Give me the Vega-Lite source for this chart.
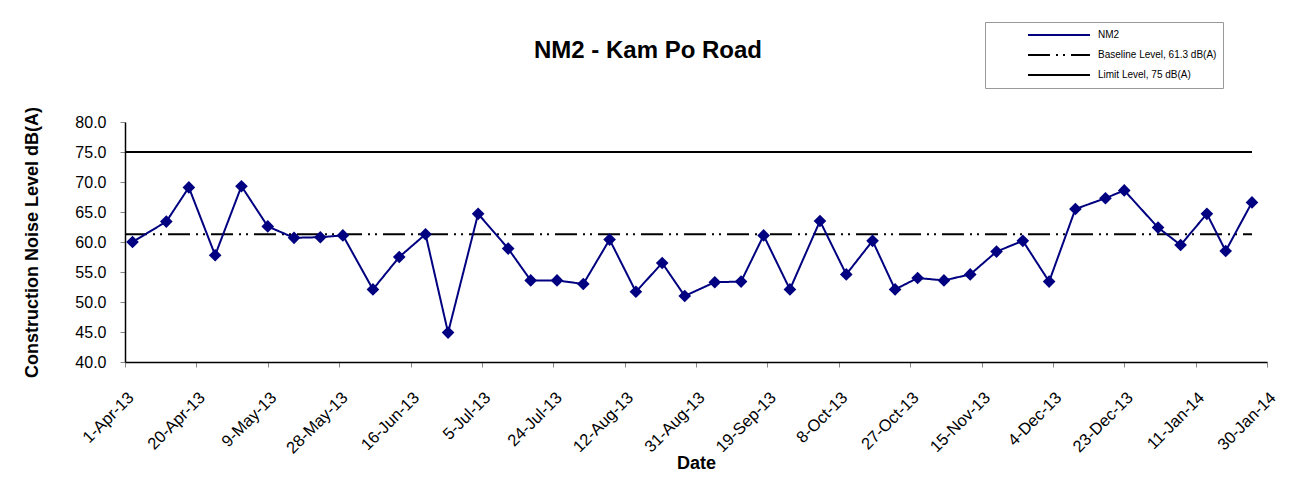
{
  "$schema": "https://vega.github.io/schema/vega-lite/v6.json",
  "width": 1142,
  "height": 240,
  "autosize": {"type": "none"},
  "padding": {"left": 125, "top": 122, "right": 28, "bottom": 123},
  "background": "white",
  "config": {
    "font": "Liberation Sans",
    "view": {"stroke": null},
    "axis": {"domainColor": "black", "domainWidth": 1.5, "tickColor": "#888", "tickSize": 5, "labelColor": "black", "titleColor": "black", "grid": false}
  },
  "title": {"text": "NM2 - Kam Po Road", "fontSize": 24, "fontWeight": "bold", "anchor": "middle", "dx": -48, "offset": -60, "baseline": "alphabetic", "color": "black"},
  "datasets": {
    "nm2": [
      {"date": "2013-04-03", "value": 60.0},
      {"date": "2013-04-12", "value": 63.4},
      {"date": "2013-04-18", "value": 69.1},
      {"date": "2013-04-25", "value": 57.8},
      {"date": "2013-05-02", "value": 69.3},
      {"date": "2013-05-09", "value": 62.6},
      {"date": "2013-05-16", "value": 60.7},
      {"date": "2013-05-23", "value": 60.8},
      {"date": "2013-05-29", "value": 61.1},
      {"date": "2013-06-06", "value": 52.1},
      {"date": "2013-06-13", "value": 57.5},
      {"date": "2013-06-20", "value": 61.3},
      {"date": "2013-06-26", "value": 44.9},
      {"date": "2013-07-04", "value": 64.7},
      {"date": "2013-07-12", "value": 58.9},
      {"date": "2013-07-18", "value": 53.6},
      {"date": "2013-07-25", "value": 53.6},
      {"date": "2013-08-01", "value": 53.0},
      {"date": "2013-08-08", "value": 60.4},
      {"date": "2013-08-15", "value": 51.7},
      {"date": "2013-08-22", "value": 56.5},
      {"date": "2013-08-28", "value": 51.0},
      {"date": "2013-09-05", "value": 53.3},
      {"date": "2013-09-12", "value": 53.4},
      {"date": "2013-09-18", "value": 61.1},
      {"date": "2013-09-25", "value": 52.1},
      {"date": "2013-10-03", "value": 63.5},
      {"date": "2013-10-10", "value": 54.6},
      {"date": "2013-10-17", "value": 60.2},
      {"date": "2013-10-23", "value": 52.1},
      {"date": "2013-10-29", "value": 54.0},
      {"date": "2013-11-05", "value": 53.6},
      {"date": "2013-11-12", "value": 54.6},
      {"date": "2013-11-19", "value": 58.4},
      {"date": "2013-11-26", "value": 60.2},
      {"date": "2013-12-03", "value": 53.4},
      {"date": "2013-12-10", "value": 65.5},
      {"date": "2013-12-18", "value": 67.3},
      {"date": "2013-12-23", "value": 68.6},
      {"date": "2014-01-01", "value": 62.4},
      {"date": "2014-01-07", "value": 59.5},
      {"date": "2014-01-14", "value": 64.7},
      {"date": "2014-01-19", "value": 58.5},
      {"date": "2014-01-26", "value": 66.6}
    ],
    "refs": [
      {"series": "Baseline Level, 61.3 dB(A)", "start": "2013-04-01", "end": "2014-01-26", "level": 61.3},
      {"series": "Limit Level, 75 dB(A)", "start": "2013-04-01", "end": "2014-01-26", "level": 75}
    ]
  },
  "encoding": {
    "x": {
      "field": "date", "type": "temporal",
      "scale": {"type": "utc", "domain": [{"year": 2013, "month": 4, "date": 1, "utc": true}, {"year": 2014, "month": 1, "date": 30, "utc": true}]},
      "axis": {
        "title": "Date", "titleFontSize": 18, "titleFontWeight": "bold", "titleDx": -48, "titlePadding": -2,
        "format": "%-d-%b-%y", "labelAngle": -45, "labelFontSize": 16.5, "labelPadding": 22, "labelDx": -19, "labelOverlap": false, "labelFlush": false,
        "values": [
          {"year": 2013, "month": 4, "date": 1, "utc": true},
          {"year": 2013, "month": 4, "date": 20, "utc": true},
          {"year": 2013, "month": 5, "date": 9, "utc": true},
          {"year": 2013, "month": 5, "date": 28, "utc": true},
          {"year": 2013, "month": 6, "date": 16, "utc": true},
          {"year": 2013, "month": 7, "date": 5, "utc": true},
          {"year": 2013, "month": 7, "date": 24, "utc": true},
          {"year": 2013, "month": 8, "date": 12, "utc": true},
          {"year": 2013, "month": 8, "date": 31, "utc": true},
          {"year": 2013, "month": 9, "date": 19, "utc": true},
          {"year": 2013, "month": 10, "date": 8, "utc": true},
          {"year": 2013, "month": 10, "date": 27, "utc": true},
          {"year": 2013, "month": 11, "date": 15, "utc": true},
          {"year": 2013, "month": 12, "date": 4, "utc": true},
          {"year": 2013, "month": 12, "date": 23, "utc": true},
          {"year": 2014, "month": 1, "date": 11, "utc": true},
          {"year": 2014, "month": 1, "date": 30, "utc": true}
        ]
      }
    },
    "y": {
      "type": "quantitative",
      "scale": {"domain": [40, 80], "nice": false, "zero": false},
      "axis": {
        "title": "Construction Noise Level  dB(A)", "titleFontSize": 18, "titleFontWeight": "bold", "titlePadding": 33,
        "values": [40, 45, 50, 55, 60, 65, 70, 75, 80], "format": ".1f", "labelFontSize": 16, "labelPadding": 14, "labelOverlap": false
      }
    }
  },
  "layer": [
    {
      "data": {"name": "refs"},
      "mark": {"type": "rule", "strokeWidth": 2},
      "encoding": {
        "x": {"field": "start", "type": "temporal"},
        "x2": {"field": "end"},
        "y": {"field": "level", "type": "quantitative"},
        "color": {"field": "series", "type": "nominal", "legend": {"title": null}},
        "strokeDash": {"field": "series", "type": "nominal", "legend": {"title": null}}
      }
    },
    {
      "data": {"name": "nm2"},
      "mark": {"type": "line", "strokeWidth": 2},
      "encoding": {
        "y": {"field": "value", "type": "quantitative"},
        "color": {
          "datum": "NM2", "type": "nominal",
          "scale": {"domain": ["NM2", "Baseline Level, 61.3 dB(A)", "Limit Level, 75 dB(A)"], "range": ["#000080", "black", "black"]},
          "legend": {
            "title": null, "orient": "none", "legendX": 860, "legendY": -100,
            "strokeColor": "#999", "fillColor": "white", "padding": 6,
            "symbolType": "stroke", "symbolSize": 3844, "symbolStrokeWidth": 2, "clipHeight": 14,
            "symbolOffset": 36, "labelOffset": 7, "labelFontSize": 10, "rowPadding": 6, "labelLimit": 300
          }
        },
        "strokeDash": {
          "datum": "NM2", "type": "nominal",
          "scale": {"domain": ["NM2", "Baseline Level, 61.3 dB(A)", "Limit Level, 75 dB(A)"], "range": [[1, 0], [22, 6, 2, 5, 2, 6], [1, 0]]},
          "legend": {"title": null}
        }
      }
    },
    {
      "data": {"name": "nm2"},
      "mark": {"type": "point", "shape": "diamond", "filled": true, "size": 160, "color": "#000080", "opacity": 1},
      "encoding": {
        "y": {"field": "value", "type": "quantitative"}
      }
    }
  ]
}
